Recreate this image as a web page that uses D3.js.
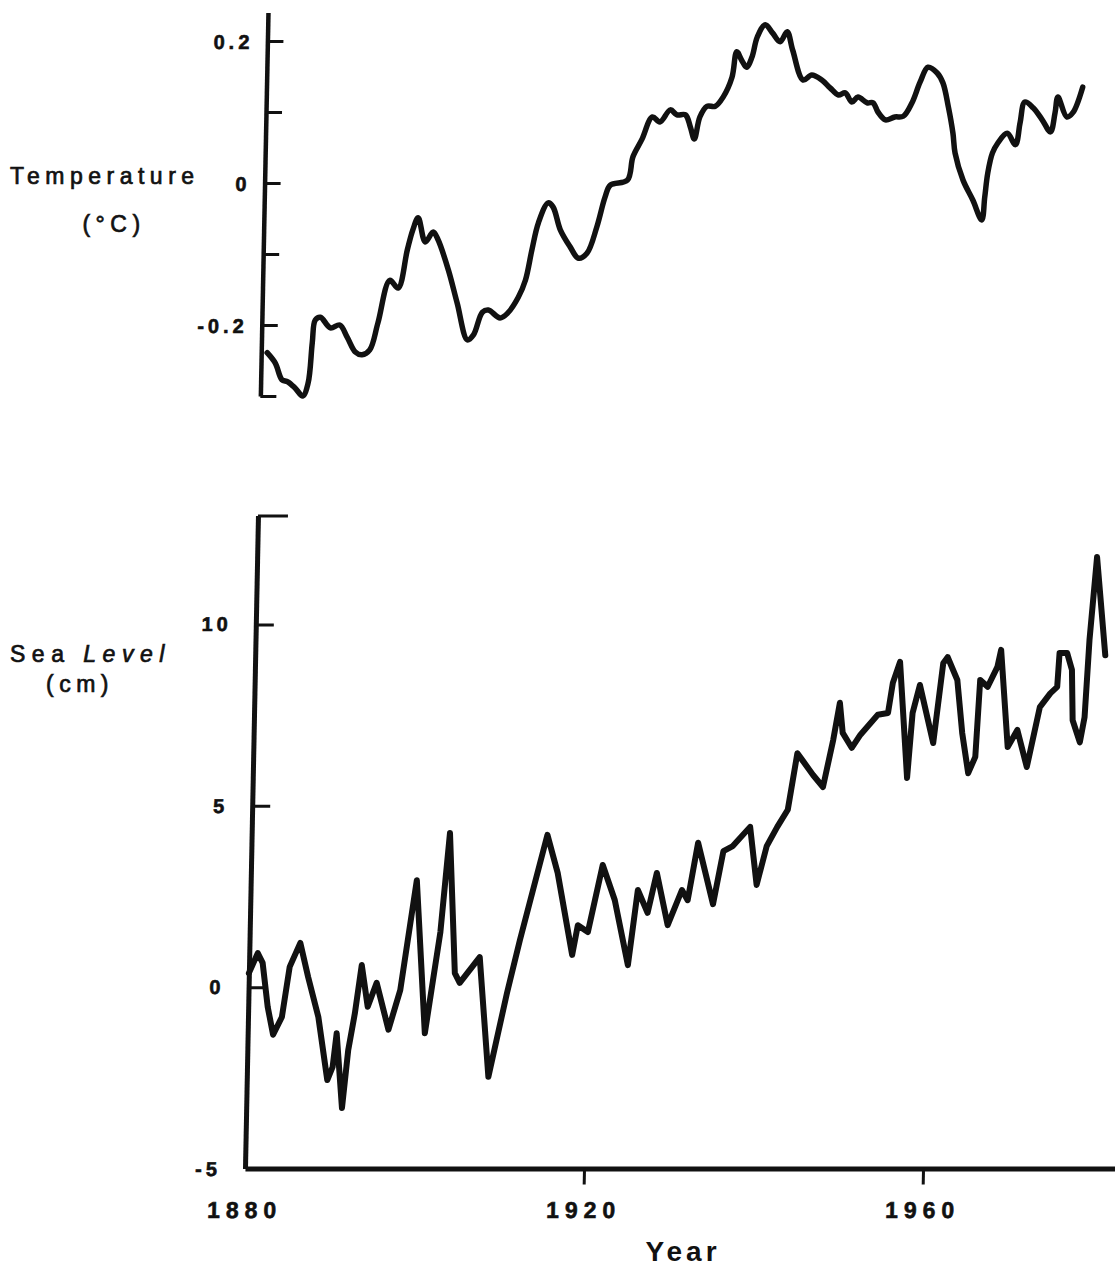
<!doctype html>
<html lang="en">
<head>
  <meta charset="utf-8">
  <script src="https://d3js.org/d3.v7.min.js"></script>
  <style>
    body { margin: 0; background: #fff; }
    text { font-family: "Liberation Sans", Arial, Helvetica, sans-serif; fill: #111; }
  </style>
</head>
<body>
  <script>
    // ---- data ----
    var tempYears = [1880.7,1881.7,1882.5,1883.2,1884.1,1885.0,1885.6,1886.0,1886.3,1886.9,
      1888.1,1889.2,1890.1,1891.1,1891.9,1892.8,1893.7,1895.0,1896.0,1897.0,
      1897.6,1898.2,1899.1,1900.0,1900.6,1901.9,1903.0,1904.3,1905.0,1906.0,
      1906.7,1908.1,1909.0,1910.2,1911.0,1911.7,1912.4,1913.5,1914.1,1915.0,
      1916.2,1917.2,1918.2,1919.3,1920.2,1920.8,1922.8,1923.4,1924.4,1925.6,
      1926.5,1927.7,1928.5,1929.5,1930.1,1930.6,1931.2,1932.0,1933.0,1933.9,
      1934.9,1935.4,1936.0,1936.6,1937.2,1937.8,1938.7,1939.6,1940.5,1941.3,
      1942.0,1943.3,1944.3,1945.5,1946.5,1947.5,1948.3,1949.1,1949.8,1950.9,
      1951.6,1952.2,1953.1,1954.2,1955.2,1956.2,1957.1,1958.0,1959.1,1959.8,
      1960.5,1961.1,1961.4,1962.4,1963.6,1964.7,1965.0,1965.3,1965.8,1966.4,
      1967.5,1968.5,1969.0,1969.5,1970.5,1971.6,1972.6,1973.1,1973.4,1974.5,
      1975.2,1976.3];
    var tempValues = [-0.239,-0.254,-0.277,-0.280,-0.289,-0.300,-0.282,-0.225,-0.193,-0.189,
      -0.204,-0.200,-0.217,-0.238,-0.242,-0.235,-0.197,-0.137,-0.148,-0.094,
      -0.066,-0.049,-0.083,-0.069,-0.080,-0.123,-0.169,-0.221,-0.214,-0.182,
      -0.179,-0.190,-0.183,-0.161,-0.137,-0.094,-0.056,-0.028,-0.034,-0.066,
      -0.090,-0.106,-0.099,-0.062,-0.020,-0.003,0.004,0.037,0.061,0.093,
      0.086,0.103,0.096,0.096,0.079,0.062,0.093,0.108,0.108,0.121,
      0.149,0.185,0.173,0.163,0.177,0.206,0.223,0.211,0.199,0.213,
      0.187,0.145,0.152,0.145,0.134,0.124,0.127,0.114,0.121,0.113,
      0.113,0.100,0.089,0.093,0.094,0.113,0.142,0.163,0.155,0.141,
      0.107,0.070,0.042,0.004,-0.024,-0.052,-0.020,0.014,0.042,0.056,
      0.070,0.054,0.085,0.114,0.106,0.089,0.072,0.099,0.121,0.093,
      0.099,0.135];

    var seaYears = [1880.0,1881.0,1881.6,1882.3,1883.0,1884.0,1884.8,1886.0,1887.0,1888.3,
      1889.5,1890.1,1890.5,1891.3,1891.9,1892.6,1893.3,1894.1,1895.1,1896.6,
      1897.9,1899.6,1900.9,1902.5,1903.4,1904.3,1904.9,1907.2,1908.5,1910.5,
      1911.9,1914.9,1916.2,1918.1,1918.7,1919.9,1921.5,1923.0,1924.7,1925.7,
      1926.9,1927.9,1929.3,1930.9,1931.6,1932.7,1934.6,1935.7,1936.8,1938.8,
      1939.7,1940.8,1942.0,1943.2,1944.2,1944.8,1946.1,1947.3,1948.4,1949.1,
      1949.5,1950.6,1951.6,1953.6,1954.8,1955.3,1956.1,1957.2,1957.7,1958.5,
      1960.2,1961.2,1961.7,1962.9,1963.6,1964.4,1965.2,1965.6,1966.5,1967.6,
      1968.0,1969.0,1970.1,1971.3,1972.7,1973.9,1974.7,1974.9,1975.8,1976.4,
      1976.6,1977.5,1978.0,1978.4,1979.1,1980.3];
    var seaValues = [0.39,0.94,0.67,-0.54,-1.31,-0.82,0.56,1.22,0.28,-0.82,
      -2.56,-2.20,-1.27,-3.33,-1.74,-0.72,0.61,-0.54,0.12,-1.17,
      -0.08,2.95,-1.27,1.52,4.25,0.39,0.12,0.83,-2.47,-0.16,
      1.30,4.20,3.15,0.89,1.71,1.52,3.37,2.40,0.61,2.68,
      2.05,3.15,1.71,2.68,2.40,3.98,2.29,3.75,3.89,4.42,
      2.82,3.89,4.42,4.89,6.45,6.26,5.85,5.52,6.82,7.84,
      7.01,6.60,6.96,7.51,7.56,8.39,8.97,5.77,7.56,8.33,
      6.73,8.93,9.10,8.47,7.01,5.90,6.35,8.47,8.28,8.83,
      9.30,6.62,7.09,6.07,7.72,8.10,8.28,9.21,9.21,8.75,
      7.36,6.75,7.44,9.57,11.86,9.15];

    var yearTicks = [1880, 1920, 1960];
    var tempTicks = [0.2, 0.1, 0, -0.1, -0.2, -0.3];
    var tempTickLabels = {"0.2": "0.2", "0": "0", "-0.2": "-0.2"};
    var seaTicks = [13, 10, 5, 0, -5];
    var seaTickLabels = {"10": "10", "5": "5", "0": "0", "-5": "-5"};

    var width = 1115, height = 1266;

    var svg = d3.select("body").append("svg")
        .attr("width", width)
        .attr("height", height)
        .style("background", "#fff");

    // the scan leans a little to the right going up; shear the plot frame the same way
    var baseY = 1168;
    var g = svg.append("g")
        .attr("transform", "translate(0," + baseY + ") skewX(-1.14) translate(0," + (-baseY) + ")");

    var x = d3.scaleLinear().domain([1880, 1982.65]).range([245, 1115]);
    var yTemp = d3.scaleLinear().domain([-0.3, 0.2]).range([396, 41]);
    var ySea = d3.scaleLinear().domain([-5, 13]).range([1168.6, 515.6]);

    function styleAxis(sel, w) {
      sel.select(".domain").attr("stroke", "#111").attr("stroke-width", w);
      sel.selectAll(".tick line").attr("stroke", "#111").attr("stroke-width", 3);
      sel.selectAll(".tick text")
        .style("font-size", "20px").style("font-weight", "bold")
        .style("letter-spacing", "4px")
        .attr("fill", "#111").attr("stroke", "#111").attr("stroke-width", 0.6);
    }

    // ---- temperature panel ----
    var tempAxis = g.append("g")
        .attr("transform", "translate(" + x(1880) + ",0)")
        .call(d3.axisLeft(yTemp.copy().domain([-0.3, 0.24]).range([396, 12.6]))
          .tickValues(tempTicks)
          .tickSizeInner(-16).tickSizeOuter(0).tickPadding(14)
          .tickFormat(function(d) { return tempTickLabels[String(+d.toFixed(1))] || ""; }));
    styleAxis(tempAxis, 4.5);
    tempAxis.selectAll(".tick text").attr("dy", "0.36em");

    var tempLine = d3.line()
        .x(function(d, i) { return x(tempYears[i]); })
        .y(function(d) { return yTemp(d); })
        .curve(d3.curveCatmullRom.alpha(0.5));

    g.append("path")
        .datum(tempValues)
        .attr("d", tempLine)
        .attr("fill", "none")
        .attr("stroke", "#111")
        .attr("stroke-width", 5.5)
        .attr("stroke-linejoin", "round")
        .attr("stroke-linecap", "round");

    // ---- sea level panel ----
    var seaAxis = g.append("g")
        .attr("transform", "translate(" + x(1880) + ",0)")
        .call(d3.axisLeft(ySea)
          .tickValues(seaTicks)
          .tickSizeInner(-18).tickSizeOuter(0).tickPadding(24)
          .tickFormat(function(d) { return seaTickLabels[String(d)] || ""; }));
    styleAxis(seaAxis, 5);
    seaAxis.selectAll(".tick")
        .filter(function(d) { return d === 13; })
        .select("line").attr("x2", 30);
    seaAxis.selectAll(".tick")
        .filter(function(d) { return d === -5; })
        .select("line").attr("x2", 0);

    var xAxis = g.append("g")
        .attr("transform", "translate(0," + ySea(-5) + ")")
        .call(d3.axisBottom(x)
          .tickValues(yearTicks)
          .tickSizeInner(16).tickSizeOuter(0).tickPadding(17)
          .tickFormat(d3.format("d")));
    styleAxis(xAxis, 5);
    xAxis.selectAll(".tick text").style("font-size", "23px").style("letter-spacing", "6px");
    xAxis.selectAll(".tick")
        .filter(function(d) { return d === 1880; })
        .select("line").attr("y2", 0);

    var seaLine = d3.line()
        .x(function(d, i) { return x(seaYears[i]); })
        .y(function(d) { return ySea(d); });

    g.append("path")
        .datum(seaValues)
        .attr("d", seaLine)
        .attr("fill", "none")
        .attr("stroke", "#111")
        .attr("stroke-width", 6)
        .attr("stroke-linejoin", "round")
        .attr("stroke-linecap", "round");

    // ---- axis titles ----
    var titles = svg.append("g")
        .style("font-size", "23px")
        .style("letter-spacing", "5.5px")
        .attr("stroke", "#111")
        .attr("stroke-width", 0.7);

    titles.append("text").attr("x", 10).attr("y", 184).text("Temperature");
    titles.append("text").attr("x", 114).attr("y", 232)
        .attr("text-anchor", "middle").text("(\u00B0C)");

    var sea = titles.append("text").attr("x", 10).attr("y", 662)
        .style("letter-spacing", "6.5px");
    sea.append("tspan").text("Sea ");
    sea.append("tspan").style("font-style", "italic").text("Level");
    titles.append("text").attr("x", 80).attr("y", 692)
        .attr("text-anchor", "middle").text("(cm)");

    svg.append("text")
        .attr("x", 683).attr("y", 1261)
        .attr("text-anchor", "middle")
        .style("font-size", "28px")
        .style("font-weight", "bold")
        .style("letter-spacing", "4px")
        .text("Year");
  </script>
</body>
</html>
